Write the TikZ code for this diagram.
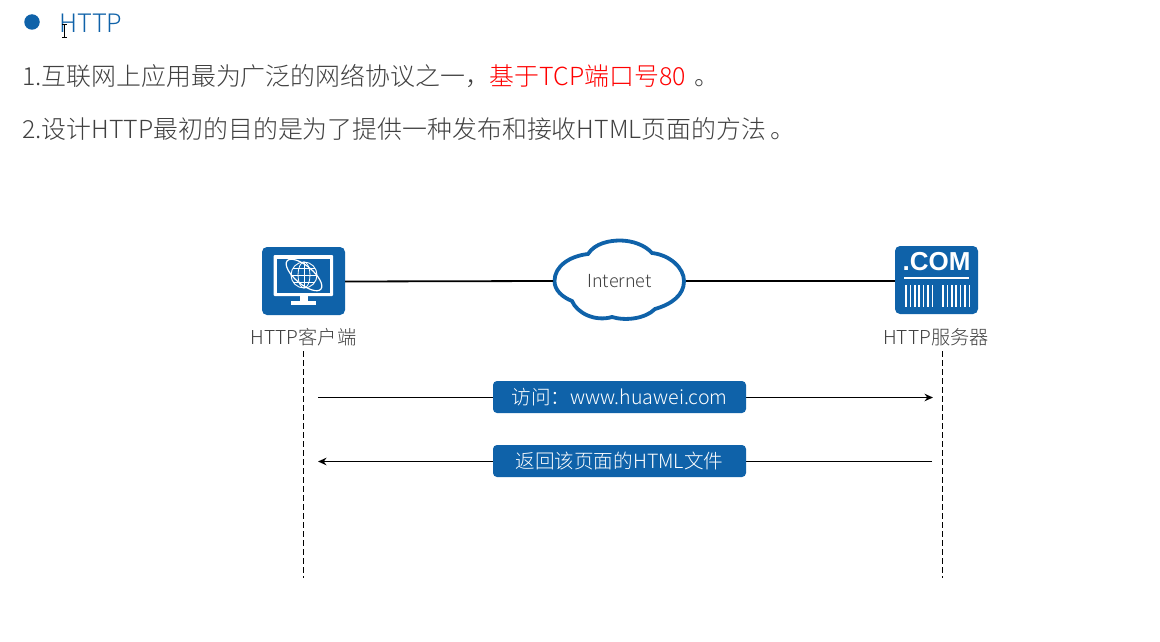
\documentclass[tikz,border=0pt]{standalone}
\usepackage{fontspec}
\setmainfont{Noto Sans CJK SC}[UprightFont=* Light,BoldFont=* Light]
\usetikzlibrary{arrows.meta}
\definecolor{hwblue}{HTML}{0F62A9}
\definecolor{txt}{HTML}{404040}
\tikzset{
 x=1pt,y=-1pt,
 heading/.style={anchor=base west,inner sep=0pt,font=\fontsize{24.9}{25}\selectfont,text=txt},
 caption/.style={anchor=center,inner sep=0pt,font=\fontsize{19.2}{19}\selectfont,text=txt},
 iconbox/.style={fill=hwblue,rounded corners=5pt,inner sep=0pt},
 tag/.style={fill=hwblue,rounded corners=4pt,text=white,inner sep=0pt,minimum height=32pt,font=\fontsize{19.6}{20}\selectfont},
 wire/.style={draw=black,line width=1.8pt},
 life/.style={draw=black,line width=1.8pt,dash pattern=on 5.5pt off 3.5pt},
 msg/.style={draw=black,line width=1.7pt,-{Stealth[length=8.5pt,width=7.5pt]}},
 iconline/.style={draw=white,line width=1pt},
}
\begin{document}
\begin{tikzpicture}
\useasboundingbox (0,0) rectangle (1160,642);
\fill[white] (0,0) rectangle (1160,642);
% heading
\node[circle,fill=hwblue,minimum size=15.5pt,inner sep=0pt] (dot) at (32,22) {};
\node[heading,text=hwblue,font=\fontsize{25.4}{25}\selectfont] (title) at (59,32.5) {HTTP};
\draw[black,line width=.8pt] (62,24.5)--(67,24.5) (62,37)--(67,37) (64.5,24.5)--(64.5,37);
\node[heading] (l1) at (22,85) {1.互联网上应用最为广泛的网络协议之一，\textcolor{red}{基于TCP端口号80}\,\,。};
\node[heading] (l2) at (22,138) {2.设计HTTP最初的目的是为了提供一种发布和接收HTML页面的方法\,。};
% client icon
\node[iconbox,minimum width=83pt,minimum height=68pt] (client) at (303.5,281) {};
\fill[white,rounded corners=1pt] (273.5,255) rectangle (333,296);
\fill[hwblue] (277,258.5) rectangle (330,293);
\fill[white] (299.5,296) rectangle (308,301);
\fill[white] (291,301) rectangle (316,305);
\draw[iconline,line width=.9pt] (304,275) circle (13);
\draw[iconline,line width=.8pt] (304,275) ellipse (6 and 13);
\draw[iconline,line width=.8pt] (291,275)--(317,275) (304,262)--(304,288) (293,268)--(315,268) (293,282)--(315,282);
\draw[iconline,line width=1.2pt] (304,275) ellipse[x radius=22,y radius=9,rotate=-40];
% client label
\node[caption] (clab) at (303.5,337) {HTTP客户端};
% server icon
\node[iconbox,minimum width=83pt,minimum height=68pt] (server) at (936.5,280) {};
\node[text=white,inner sep=0pt,font=\fontsize{26}{26}\selectfont] (com) at (936.5,262) {\fontspec{Liberation Sans Bold}.COM};
\draw[iconline,line width=2pt] (904,278)--(969,278);
\foreach \x in {906,910.4,...,933} {\draw[iconline,line width=1.6pt] (\x,285)--(\x,307);}
\foreach \x in {943,947.4,...,970} {\draw[iconline,line width=1.6pt] (\x,285)--(\x,307);}
\node[caption] (slab) at (936,337) {HTTP服务器};
% cloud
\draw[hwblue,line width=3.8pt,fill=white] (554.5,281)
 .. controls (554.5,266) and (570,256) .. (588,254)
 .. controls (595,243) and (610,240.5) .. (620,240.5)
 .. controls (632,240.5) and (645,245) .. (652,253)
 .. controls (670,255) and (684,268) .. (684,281)
 .. controls (684,295) and (672,304) .. (655,309)
 .. controls (645,319) and (625,321) .. (612,317)
 .. controls (595,322) and (577,313) .. (572,301)
 .. controls (562,297) and (554.5,290) .. (554.5,281) -- cycle;
\node[inner sep=0pt,font=\fontsize{18}{18}\selectfont,text=txt] (net) at (619.5,281) {Internet};
\coordinate (cloudL) at (553,281);
\coordinate (cloudR) at (686,281);
\draw[wire] (client.east |- 0,281.5) -- (cloudL);
\draw[wire] (cloudR) -- (server.west |- 0,281);
% lifelines
\coordinate (cb) at (303.5,578);
\coordinate (sb) at (942.5,578);
\draw[life] (303.5,351) -- (cb);
\draw[life] (942.5,351) -- (sb);
% messages
\coordinate (m1a) at (318,397.5);
\coordinate (m1b) at (933,397.5);
\coordinate (m2a) at (932,461.5);
\coordinate (m2b) at (318,461.5);
\draw[msg] (m1a) -- (m1b);
\draw[msg] (m2a) -- (m2b);
\node[tag,minimum width=253pt] (t1) at (619.5,397) {\raisebox{-1pt}{访问：www.huawei.com}};
\node[tag,minimum width=253pt] (t2) at (619.5,461) {\raisebox{-1pt}{返回该页面的HTML文件}};
\end{tikzpicture}
\end{document}
